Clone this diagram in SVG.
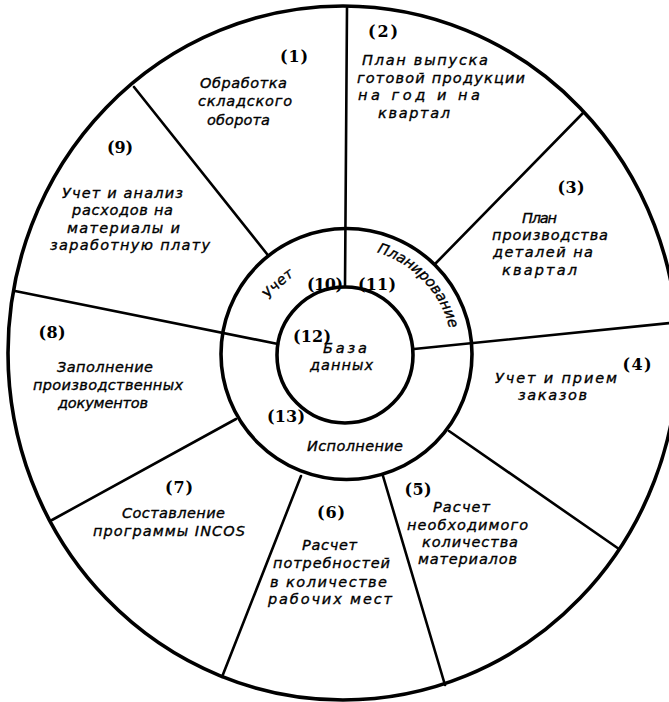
<svg xmlns="http://www.w3.org/2000/svg" width="669" height="702" viewBox="0 0 669 702">
<style>
.ring{fill:none;stroke:#000;stroke-width:3.6}
.ln{stroke:#000;stroke-width:2.6;stroke-linecap:round;fill:none}
.t{font-family:"DejaVu Sans","Liberation Sans",sans-serif;font-style:italic;font-size:14.5px;fill:#000;stroke:#000;stroke-width:0.35}
.n{font-family:"DejaVu Serif","Liberation Serif",serif;font-weight:bold;font-size:16px;fill:#000;text-anchor:middle}
</style>
<defs>
<path id="arcU" d="M 252.5 354 A 94 94 0 0 1 440.5 354"/>
<path id="arcP" d="M 240.5 354 A 106 106 0 0 1 452.5 354"/>
</defs>
<rect width="669" height="702" fill="#fff"/>
<g id="connectors">
<line class="ln" x1="347" y1="8" x2="345" y2="287"/>
<line class="ln" x1="134" y1="87" x2="267" y2="254"/>
<line class="ln" x1="15" y1="291" x2="278" y2="344"/>
<line class="ln" x1="52" y1="520" x2="236" y2="419"/>
<line class="ln" x1="222" y1="677" x2="301" y2="476"/>
<line class="ln" x1="445" y1="685" x2="383" y2="476"/>
<line class="ln" x1="619" y1="549" x2="449" y2="431"/>
<line class="ln" x1="690" y1="321" x2="414" y2="349"/>
<line class="ln" x1="583" y1="113" x2="435" y2="264"/>
</g>
<g id="outer"><ellipse class="ring" cx="343" cy="353" rx="335" ry="347"/></g>
<g id="middle"><circle class="ring" cx="346.5" cy="354" r="125.5"/></g>
<g id="inner"><circle class="ring" cx="345" cy="355" r="68"/></g>
<g id="n1">
<text class="n" x="294" y="62" textLength="28">(1)</text>
<text class="t" x="200" y="88" textLength="87">Обработка</text>
<text class="t" x="198" y="106" textLength="94">складского</text>
<text class="t" x="207" y="125" textLength="63">оборота</text>
</g>
<g id="n2">
<text class="n" x="383" y="37" textLength="30">(2)</text>
<text class="t" x="362" y="65" textLength="126">План выпуска</text>
<text class="t" x="357" y="83" textLength="168">готовой продукции</text>
<text class="t" x="358" y="100" textLength="122">на год и на</text>
<text class="t" x="378" y="118" textLength="72">квартал</text>
</g>
<g id="n3">
<text class="n" x="571" y="193" textLength="27">(3)</text>
<text class="t" x="522" y="223" textLength="35">План</text>
<text class="t" x="492" y="240" textLength="116">производства</text>
<text class="t" x="493" y="257" textLength="100">деталей на</text>
<text class="t" x="502" y="275" textLength="75">квартал</text>
</g>
<g id="n4">
<text class="n" x="637" y="370" textLength="29">(4)</text>
<text class="t" x="495" y="383" textLength="122">Учет и прием</text>
<text class="t" x="518" y="400" textLength="69">заказов</text>
</g>
<g id="n5">
<text class="n" x="418" y="495" textLength="27">(5)</text>
<text class="t" x="433" y="512" textLength="57">Расчет</text>
<text class="t" x="407" y="530" textLength="121">необходимого</text>
<text class="t" x="422" y="547" textLength="96">количества</text>
<text class="t" x="418" y="564" textLength="99">материалов</text>
</g>
<g id="n6">
<text class="n" x="331" y="518" textLength="28">(6)</text>
<text class="t" x="302" y="550" textLength="55">Расчет</text>
<text class="t" x="273" y="568" textLength="117">потребностей</text>
<text class="t" x="270" y="587" textLength="117">в количестве</text>
<text class="t" x="268" y="604" textLength="124">рабочих мест</text>
</g>
<g id="n7">
<text class="n" x="179" y="493" textLength="28">(7)</text>
<text class="t" x="122" y="518" textLength="103">Составление</text>
<text class="t" x="93" y="536" textLength="152">программы INCOS</text>
</g>
<g id="n8">
<text class="n" x="52" y="338" textLength="27">(8)</text>
<text class="t" x="57" y="372" textLength="96">Заполнение</text>
<text class="t" x="33" y="390" textLength="150">производственных</text>
<text class="t" x="58" y="408" textLength="90">документов</text>
</g>
<g id="n9">
<text class="n" x="120" y="153" textLength="26">(9)</text>
<text class="t" x="62" y="198" textLength="121">Учет и анализ</text>
<text class="t" x="72" y="215" textLength="101">расходов на</text>
<text class="t" x="67" y="233" textLength="113">материалы и</text>
<text class="t" x="50" y="250" textLength="160">заработную плату</text>
</g>
<g id="n10">
<text class="t" font-size="14"><textPath href="#arcU" startOffset="75" text-anchor="middle">Учет</textPath></text>
<text class="n" x="325" y="290" textLength="36">(10)</text>
</g>
<g id="n11">
<text class="t" font-size="13.5"><textPath href="#arcP" startOffset="252" text-anchor="middle" textLength="110">Планирование</textPath></text>
<text class="n" x="377" y="290" textLength="38">(11)</text>
</g>
<g id="n12">
<text class="n" x="312" y="342" textLength="38">(12)</text>
<text class="t" x="323" y="353" textLength="44">База</text>
<text class="t" x="310" y="370" textLength="63">данных</text>
</g>
<g id="n13">
<text class="n" x="286" y="422" textLength="38">(13)</text>
<text class="t" x="307" y="451" textLength="96">Исполнение</text>
</g>
</svg>
